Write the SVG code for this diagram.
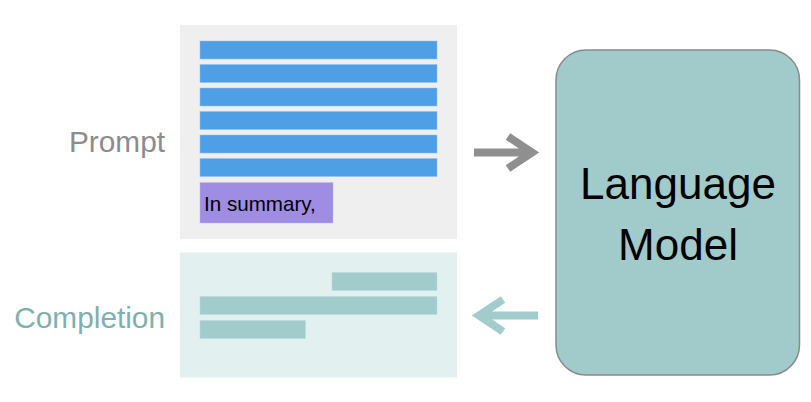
<svg xmlns="http://www.w3.org/2000/svg" width="811" height="402" viewBox="0 0 811 402">
<style>
.lbl{font-family:"Liberation Sans",Arial,sans-serif;font-size:29.8px;text-anchor:end}
.bar{fill:#4f9fe6;stroke:#8fc0ee;stroke-width:0.5}
.cbar{fill:#a2cccb;stroke:#b8dad9;stroke-width:0.5}
.arr{fill:none;stroke-width:8;stroke-linecap:butt;stroke-linejoin:miter}
</style>
<rect width="811" height="402" fill="#ffffff"/>
<g id="prompt">
<text class="lbl" x="165" y="152" fill="#8c8c8c">Prompt</text>
<rect x="180" y="25" width="277" height="214" fill="#efefef"/>
<rect class="bar" x="200" y="41" width="237" height="18"/>
<rect class="bar" x="200" y="64.5" width="237" height="18"/>
<rect class="bar" x="200" y="88" width="237" height="18"/>
<rect class="bar" x="200" y="111.5" width="237" height="18"/>
<rect class="bar" x="200" y="135" width="237" height="18"/>
<rect class="bar" x="200" y="158.5" width="237" height="18"/>
<rect x="200" y="182.5" width="133" height="40.5" fill="#9e8de3" stroke="#c2b8ee" stroke-width="0.5"/>
<text x="204" y="211" font-family="Liberation Sans,Arial,sans-serif" font-size="20.6" fill="#000">In summary,</text>
</g>
<g id="completion">
<text class="lbl" x="165" y="328" fill="#7fb0ae">Completion</text>
<rect x="180" y="252.5" width="277" height="125" fill="#e2f0ef"/>
<rect class="cbar" x="332" y="272.5" width="105" height="18"/>
<rect class="cbar" x="200" y="296.5" width="237" height="18"/>
<rect class="cbar" x="200" y="320.5" width="105.5" height="18"/>
</g>
<g id="language-model">
<rect x="556" y="50" width="243.5" height="325" rx="30" ry="30" fill="#a1cacb" stroke="#8a8a8a" stroke-width="1.5"/>
<text x="678" y="199" font-family="Liberation Sans,Arial,sans-serif" font-size="44" fill="#000" text-anchor="middle">Language</text>
<text x="678" y="260" font-family="Liberation Sans,Arial,sans-serif" font-size="44" fill="#000" text-anchor="middle">Model</text>
</g>
<g id="connectors">
<path class="arr" stroke="#8f8f8f" d="M474 152.5H532M508 136.5L532 152.5L508 168.5"/>
<path class="arr" stroke="#a2cccb" d="M538 315.5H480M503 299.5L479 315.5L503 331.5"/>
</g>
</svg>
